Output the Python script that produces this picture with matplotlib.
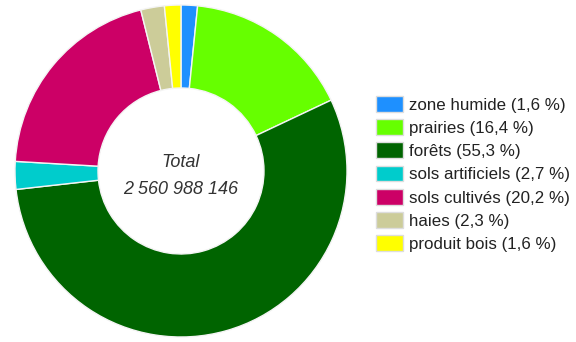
import matplotlib
matplotlib.use("Agg")
import matplotlib.pyplot as plt

plt.rcParams['font.family'] = ['Liberation Sans', 'DejaVu Sans']

# land use shares (%)
labels = ['zone humide', 'prairies', 'forêts', 'sols artificiels',
          'sols cultivés', 'haies', 'produit bois']
shares = [1.6, 16.4, 55.3, 2.7, 20.2, 2.3, 1.6]
colors = ['#1e90ff', '#66ff00', '#006400', '#00cccc',
          '#cc0066', '#cccc99', '#ffff00']
total_txt = '2 560 988 146'

fig = plt.figure(figsize=(5.76, 3.42), dpi=100)
ax = fig.add_axes([15 / 576, 5 / 342, 332 / 576, 332 / 342])

wedges, _ = ax.pie(shares, colors=colors, startangle=90, counterclock=False,
                   radius=1.0,
                   wedgeprops=dict(width=0.5, edgecolor='#f4f4f4', linewidth=1))
ax.set_xlim(-1, 1)
ax.set_ylim(-1, 1)
ax.set_aspect('equal')
ax.axis('off')

# centre label
ax.text(0, 0.05, 'Total', ha='center', va='center', style='italic',
        fontsize=13, color='#333333')
ax.text(0, -0.11, total_txt, ha='center', va='center', style='italic',
        fontsize=13, color='#333333')

leg_labels = ['%s (%s %%)' % (l, ('%.1f' % s).replace('.', ','))
              for l, s in zip(labels, shares)]
leg = fig.legend(wedges, leg_labels, loc='upper left',
                 bbox_to_anchor=(376 / 576, 1 - 96 / 342),
                 frameon=False, fontsize=12.2, labelcolor='#222222',
                 handlelength=1.6, handleheight=1.05, handletextpad=0.35,
                 labelspacing=0.39, borderpad=0, borderaxespad=0)
for h in leg.legend_handles:
    h.set_edgecolor('#dddddd')
    h.set_linewidth(1)

fig.savefig('out.png', dpi=100)
